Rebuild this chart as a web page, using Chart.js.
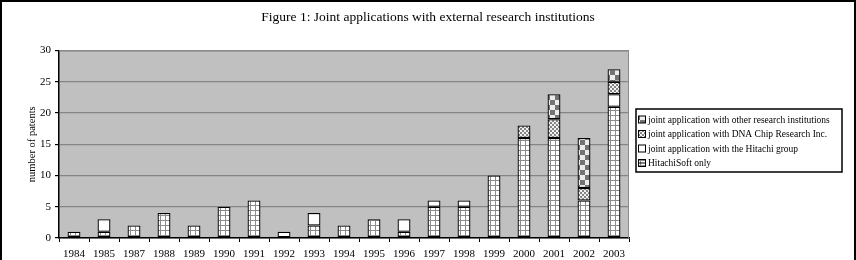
<!DOCTYPE html>
<html>
<head>
<meta charset="utf-8">
<script src="https://cdn.jsdelivr.net/npm/chart.js@4.4.0/dist/chart.umd.min.js"></script>
<style>
  html, body { margin: 0; padding: 0; background: #fff; }
  #wrap { width: 856px; height: 260px; position: relative; }
</style>
</head>
<body>
<div id="wrap"><canvas id="patentChart"></canvas></div>
<script>
// data
const years = ['1984','1985','1987','1988','1989','1990','1991','1992','1993','1994',
               '1995','1996','1997','1998','1999','2000','2001','2002','2003'];
const softOnly   = [1,1,2,4,2,5,6,0,2,2,3,1,5,5,10,16,16,6,21];
const hitachiGrp = [0,2,0,0,0,0,0,1,2,0,0,2,1,1,0,0,0,0,2];
const dnaChip    = [0,0,0,0,0,0,0,0,0,0,0,0,0,0,0,2,3,2,2];
const otherInst  = [0,0,0,0,0,0,0,0,0,0,0,0,0,0,0,0,4,8,2];
const seriesNames = [
  'HitachiSoft only',
  'joint application with the Hitachi group',
  'joint application with DNA Chip Research Inc.',
  'joint application with other research institutions'
];
const yTicks = [0, 5, 10, 15, 20, 25, 30];
const chartTitle = 'Figure 1: Joint applications with external research institutions';

const FONT = "'Liberation Serif', 'DejaVu Serif', serif";

// fill patterns
const ctx = document.getElementById('patentChart').getContext('2d');
function makePattern(size, draw) {
  const c = document.createElement('canvas');
  c.width = size; c.height = size;
  const g = c.getContext('2d');
  draw(g, size);
  return ctx.createPattern(c, 'repeat');
}
const softPat = makePattern(5, (g, s) => {
  g.fillStyle = '#fff'; g.fillRect(0, 0, s, s);
  g.fillStyle = '#8c8c8c'; g.fillRect(0, 0, s, 1); g.fillRect(0, 0, 1, s);
});
const dnaPat = makePattern(4, (g, s) => {
  g.fillStyle = '#f2f2f2'; g.fillRect(0, 0, s, s);
  g.fillStyle = '#858585'; g.fillRect(0, 0, 2, 2); g.fillRect(2, 2, 2, 2);
});
const otherPat = makePattern(10, (g, s) => {
  g.fillStyle = '#ececec'; g.fillRect(0, 0, s, s);
  g.fillStyle = '#737373'; g.fillRect(0, 0, 5, 5); g.fillRect(5, 5, 5, 5);
});
const fills = [softPat, '#ffffff', dnaPat, otherPat];
const values = [softOnly, hitachiGrp, dnaChip, otherInst];

const decor = {
  id: 'decor',
  beforeDraw(chart) {
    const a = chart.chartArea, c = chart.ctx;
    c.save();
    c.fillStyle = '#c0c0c0';
    c.fillRect(a.left, a.top, a.right - a.left, a.bottom - a.top);
    c.restore();
  },
  afterDraw(chart) {
    const a = chart.chartArea, c = chart.ctx;
    c.save();
    // plot frame top/right
    c.strokeStyle = '#8c8c8c'; c.lineWidth = 1;
    c.beginPath();
    c.moveTo(a.left, a.top + 0.5); c.lineTo(a.right - 0.5, a.top + 0.5); c.lineTo(a.right - 0.5, a.bottom);
    c.stroke();
    // outer frame
    c.strokeStyle = '#000'; c.lineWidth = 2;
    c.strokeRect(1, 1, chart.width - 2, chart.height + 10);

    // title, centred on the whole figure
    c.fillStyle = '#000';
    c.font = '13.5px ' + FONT;
    c.textAlign = 'center';
    c.textBaseline = 'middle';
    c.fillText(chartTitle, chart.width / 2, 17);

    // legend box
    const lx = 636, ly = 109, lw = 206, lh = 63;
    c.fillStyle = '#fff'; c.fillRect(lx, ly, lw, lh);
    c.strokeStyle = '#000'; c.lineWidth = 1.5;
    c.strokeRect(lx, ly, lw, lh);
    c.font = '9.5px ' + FONT;
    c.textAlign = 'left';
    const n = chart.data.datasets.length;
    for (let i = 0; i < n; i++) {
      const ds = chart.data.datasets[n - 1 - i];
      const y = 119.5 + i * 14.5;
      c.fillStyle = ds.backgroundColor;
      c.fillRect(638.5, y - 3.5, 7, 7);
      c.strokeStyle = '#000'; c.lineWidth = 1;
      c.strokeRect(638.5, y - 3.5, 7, 7);
      if (i === 3) { c.beginPath(); c.moveTo(638.5, y); c.lineTo(645.5, y); c.stroke(); }
      c.fillStyle = '#000';
      c.fillText(ds.label, 648, y + 0.5);
    }
    c.restore();
  }
};

new Chart(ctx, {
  type: 'bar',
  data: {
    labels: years,
    datasets: values.map((v, i) => ({
      label: seriesNames[i],
      data: v.map(x => x === 0 ? null : x),
      backgroundColor: fills[i],
      borderColor: '#000',
      borderWidth: 1.3,
      borderSkipped: false,
      barPercentage: 0.43,
      categoryPercentage: 1
    }))
  },
  options: {
    responsive: true,
    maintainAspectRatio: false,
    animation: false,
    layout: {
      padding: { top: 50.5, right: 227, bottom: 0, left: 0 }
    },
    plugins: {
      legend: { display: false },
      tooltip: { enabled: false },
      title: { display: false }
    },
    scales: {
      x: {
        stacked: true,
        afterFit(s) { s.height = 22; },
        border: { color: '#000', width: 1.5 },
        grid: { display: true, drawOnChartArea: false, offset: true, tickLength: 4, color: '#000' },
        ticks: { color: '#000', padding: 6, maxRotation: 0, autoSkip: false, font: { family: FONT, size: 11 } }
      },
      y: {
        stacked: true,
        min: 0, max: 30,
        afterFit(s) { s.width = 59; },
        afterBuildTicks(s) { s.ticks = yTicks.map(v => ({ value: v })); },
        border: { color: '#000', width: 1.5 },
        grid: { color: '#858585', lineWidth: 1.2, tickColor: '#000', tickLength: 4 },
        ticks: { color: '#000', padding: 4, font: { family: FONT, size: 11 } },
        title: {
          display: true,
          text: 'number of patents',
          color: '#000',
          font: { family: FONT, size: 10.5 },
          padding: { top: 26, bottom: 0 }
        }
      }
    }
  },
  plugins: [decor]
});
</script>
</body>
</html>
